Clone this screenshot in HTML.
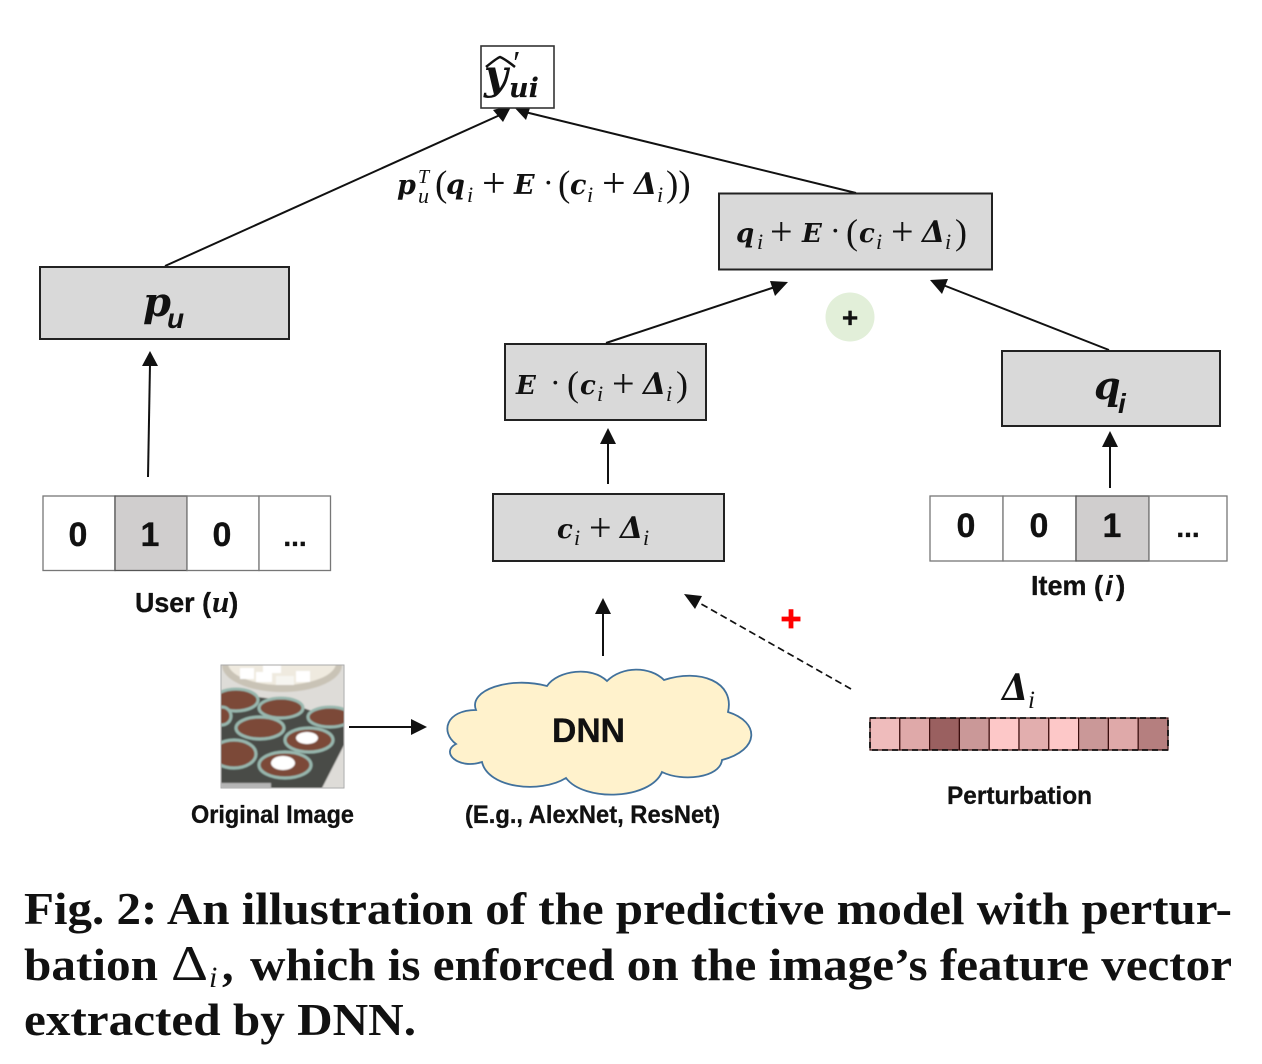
<!DOCTYPE html>
<html><head><meta charset="utf-8">
<style>
html,body{margin:0;padding:0;background:#fff;width:1262px;height:1064px;overflow:hidden}
svg{display:block}
.m{font-family:"DejaVu Serif",serif;font-weight:bold;font-style:italic;fill:#111}
.r{font-family:"Liberation Serif",serif;fill:#111}
.ri{font-family:"Liberation Serif",serif;font-style:italic;fill:#111}
.s{font-family:"Liberation Sans",sans-serif;font-weight:bold;fill:#111;stroke:#111;stroke-width:.3}
.si{font-family:"Liberation Sans",sans-serif;font-weight:bold;font-style:italic;fill:#111}
.c{font-family:"Liberation Serif",serif;font-weight:bold;font-size:46px;fill:#111}
.box{fill:#d9d9d9;stroke:#222;stroke-width:2}
.cell{fill:#fff;stroke:#777;stroke-width:1.3}
.on{fill:#d0cece;stroke:#555;stroke-width:1.3}
.ln{stroke:#111;stroke-width:2;fill:none}
</style></head><body>
<svg width="1262" height="1064" viewBox="0 0 1262 1064" xmlns="http://www.w3.org/2000/svg">
<defs>
<clipPath id="ph"><rect x="221" y="665" width="123" height="123"/></clipPath>
<filter id="bl" x="-5%" y="-5%" width="110%" height="110%"><feGaussianBlur stdDeviation="0.7"/></filter>
</defs>
<rect width="1262" height="1064" fill="#fff"/>

<!-- main connectors -->
<line x1="165" y1="266" x2="500" y2="115" class="ln"/>
<polygon points="512,105 493,110 503,122" fill="#111"/>
<line x1="856" y1="193" x2="525" y2="112" class="ln"/>
<polygon points="513,106 531,105 526,120" fill="#111"/>

<!-- top output -->
<rect x="481" y="46" width="73" height="62" fill="#fff" stroke="#333" stroke-width="1.6"/>
<text x="484" y="89" class="m" font-size="41">y</text>
<path d="M486 67 Q497 58 500 57 Q505 59 515 67" fill="none" stroke="#111" stroke-width="2.5"/>
<text x="511" y="74" class="r" font-size="34" font-style="italic">′</text>
<text x="509" y="97" class="m" font-size="27">ui</text>

<!-- formula top -->
<text x="397" y="194" class="m" font-size="27">p</text>
<text x="418" y="183" class="ri" font-size="20">T</text>
<text x="418" y="203" class="ri" font-size="22">u</text>
<text x="435" y="196" class="r" font-size="37">(</text>
<text x="446" y="194" class="m" font-size="27">q</text>
<text x="467" y="202" class="ri" font-size="22">i</text>
<text x="482" y="197" class="r" font-size="42">+</text>
<text x="514" y="194" class="m" font-size="27">E</text>
<text x="543" y="193" class="r" font-size="32">·</text>
<text x="558" y="196" class="r" font-size="37">(</text>
<text x="570" y="194" class="m" font-size="27">c</text>
<text x="587" y="202" class="ri" font-size="22">i</text>
<text x="602" y="197" class="r" font-size="42">+</text>
<text x="634" y="194" class="m" font-size="30" textLength="23" lengthAdjust="spacingAndGlyphs">Δ</text>
<text x="657" y="202" class="ri" font-size="22">i</text>
<text x="666" y="196" class="r" font-size="37">))</text>

<!-- p_u -->
<rect x="40" y="267" width="249" height="72" class="box"/>
<text x="143" y="316" class="m" font-size="40">p</text>
<text x="167" y="328" class="si" font-size="28">u</text>

<line x1="148" y1="477" x2="150" y2="364" class="ln"/>
<polygon points="150,351 142,366 158,366" fill="#111"/>

<!-- user vector -->
<rect x="43" y="496" width="72" height="74.5" class="cell"/>
<rect x="115" y="496" width="72" height="74.5" class="on"/>
<rect x="187" y="496" width="72" height="74.5" class="cell"/>
<rect x="259" y="496" width="71.5" height="74.5" class="cell"/>
<text x="78" y="546" class="s" font-size="34" text-anchor="middle">0</text>
<text x="150" y="546" class="s" font-size="34" text-anchor="middle">1</text>
<text x="222" y="546" class="s" font-size="34" text-anchor="middle">0</text>
<text x="295" y="546" class="s" font-size="28" text-anchor="middle">...</text>
<text x="135" y="612" class="s" font-size="28" textLength="76" lengthAdjust="spacingAndGlyphs">User (</text>
<text x="212" y="612" class="ri" font-size="31" font-weight="bold">u</text>
<text x="229" y="612" class="s" font-size="28">)</text>

<!-- q+E box -->
<rect x="719" y="193.500" width="273" height="76" class="box"/>
<text x="736" y="242" class="m" font-size="26">q</text>
<text x="757" y="249" class="ri" font-size="22">i</text>
<text x="770" y="245" class="r" font-size="40">+</text>
<text x="802" y="242" class="m" font-size="26">E</text>
<text x="830" y="241" class="r" font-size="32">·</text>
<text x="846" y="244" class="r" font-size="36">(</text>
<text x="859" y="242" class="m" font-size="26">c</text>
<text x="876" y="249" class="ri" font-size="22">i</text>
<text x="891" y="245" class="r" font-size="40">+</text>
<text x="922" y="242" class="m" font-size="30" textLength="23" lengthAdjust="spacingAndGlyphs">Δ</text>
<text x="945" y="249" class="ri" font-size="22">i</text>
<text x="955" y="244" class="r" font-size="36">)</text>

<!-- E box -->
<rect x="505" y="344" width="201" height="76" class="box"/>
<text x="516" y="394" class="m" font-size="26">E</text>
<text x="550" y="393" class="r" font-size="32">·</text>
<text x="567" y="396" class="r" font-size="36">(</text>
<text x="580" y="394" class="m" font-size="26">c</text>
<text x="597" y="401" class="ri" font-size="22">i</text>
<text x="612" y="397" class="r" font-size="40">+</text>
<text x="643" y="394" class="m" font-size="30" textLength="23" lengthAdjust="spacingAndGlyphs">Δ</text>
<text x="666" y="401" class="ri" font-size="22">i</text>
<text x="676" y="396" class="r" font-size="36">)</text>

<line x1="606" y1="343" x2="775" y2="287" class="ln"/>
<polygon points="788,282 770,281 775,296" fill="#111"/>
<line x1="1109" y1="350" x2="943" y2="285" class="ln"/>
<polygon points="930,280 948,279 942,294" fill="#111"/>

<circle cx="850" cy="317" r="24.500" fill="#e2efd9"/>
<text x="850" y="327" class="s" font-size="28" text-anchor="middle">+</text>

<!-- q_i box -->
<rect x="1002" y="351" width="218" height="75" class="box"/>
<text x="1094" y="399" class="m" font-size="38">q</text>
<text x="1118" y="413" class="si" font-size="28">i</text>

<line x1="1110" y1="488" x2="1110" y2="445" class="ln"/>
<polygon points="1110,431 1102,447 1118,447" fill="#111"/>

<!-- item vector -->
<rect x="930" y="496" width="73" height="65" class="cell"/>
<rect x="1003" y="496" width="73" height="65" class="cell"/>
<rect x="1076" y="496" width="73" height="65" class="on"/>
<rect x="1149" y="496" width="78" height="65" class="cell"/>
<text x="966" y="537" class="s" font-size="34" text-anchor="middle">0</text>
<text x="1039" y="537" class="s" font-size="34" text-anchor="middle">0</text>
<text x="1112" y="537" class="s" font-size="34" text-anchor="middle">1</text>
<text x="1188" y="537" class="s" font-size="28" text-anchor="middle">...</text>
<text x="1031" y="595" class="s" font-size="28" textLength="72" lengthAdjust="spacingAndGlyphs">Item (</text>
<text x="1105" y="595" class="si" font-size="28">i</text>
<text x="1116" y="595" class="s" font-size="28">)</text>

<!-- c+delta box -->
<rect x="493" y="494" width="231" height="67" class="box"/>
<text x="557" y="538" class="m" font-size="26">c</text>
<text x="574" y="545" class="ri" font-size="22">i</text>
<text x="589" y="541" class="r" font-size="40">+</text>
<text x="620" y="538" class="m" font-size="30" textLength="23" lengthAdjust="spacingAndGlyphs">Δ</text>
<text x="643" y="545" class="ri" font-size="22">i</text>

<line x1="608" y1="484" x2="608" y2="442" class="ln"/>
<polygon points="608,428 600,444 616,444" fill="#111"/>
<line x1="603" y1="656" x2="603" y2="612" class="ln"/>
<polygon points="603,598 595,614 611,614" fill="#111"/>

<!-- dashed -->
<line x1="851" y1="689" x2="696" y2="601" stroke="#111" stroke-width="1.700" stroke-dasharray="7 4"/>
<polygon points="684,594 702,596 695,609" fill="#111"/>
<text x="791" y="631" class="s" font-size="36" style="fill:#f00;stroke:#f00;stroke-width:.8" text-anchor="middle">+</text>

<!-- image -->
<g clip-path="url(#ph)">
<g filter="url(#bl)">
<rect x="221" y="665" width="123" height="123" fill="#dedcd8"/>
<ellipse cx="282" cy="665" rx="60" ry="27" fill="#c9c3b6"/>
<ellipse cx="282" cy="663" rx="54" ry="22" fill="#efeadf"/>
<rect x="240" y="668" width="14" height="11" fill="#fff"/>
<rect x="256" y="672" width="16" height="10" fill="#fff"/>
<rect x="276" y="676" width="18" height="9" fill="#f6f5f0"/>
<rect x="296" y="671" width="14" height="11" fill="#fff"/>
<rect x="263" y="665" width="18" height="8" fill="#fff"/>
<polygon points="221,692 280,700 344,722 344,745 322,788 221,788" fill="#4a4c47"/>
<g stroke="#98b7ae" stroke-width="3" fill="#7c4a38">
<ellipse cx="236" cy="700" rx="22" ry="11"/>
<ellipse cx="281" cy="708" rx="22" ry="10"/>
<ellipse cx="330" cy="717" rx="22" ry="10"/>
<ellipse cx="222" cy="716" rx="9" ry="9"/>
<ellipse cx="260" cy="728" rx="24" ry="11"/>
<ellipse cx="309" cy="740" rx="24" ry="12"/>
<ellipse cx="234" cy="754" rx="22" ry="14"/>
<ellipse cx="285" cy="765" rx="26" ry="13"/>
</g>
<ellipse cx="307" cy="738" rx="11" ry="6" fill="#fff"/>
<ellipse cx="283" cy="763" rx="12" ry="7" fill="#fff"/>
<rect x="221" y="783" width="50" height="5" fill="#b5b5b5"/>
</g>
</g>
<rect x="221" y="665" width="123" height="123" fill="none" stroke="#aaa" stroke-width="1"/>

<line x1="349" y1="727" x2="413" y2="727" class="ln"/>
<polygon points="427,727 411,719 411,735" fill="#111"/>

<text x="191" y="823" class="s" font-size="25" textLength="163" lengthAdjust="spacingAndGlyphs">Original Image</text>

<!-- cloud -->
<path d="M476 710 C468 690 510 676 547 686 C558 670 592 666 607 681 C622 666 650 666 664 680 C700 668 735 682 728 712 C760 722 760 750 722 760 C720 778 682 782 662 772 C650 800 584 802 566 778 C540 794 488 788 482 762 C458 770 440 752 456 744 C440 732 446 710 476 710 Z" fill="#fff2cc" stroke="#41719c" stroke-width="1.800"/>
<text x="552" y="742" class="s" font-size="34" textLength="73" lengthAdjust="spacingAndGlyphs">DNN</text>
<text x="465" y="823" class="s" font-size="25" textLength="255" lengthAdjust="spacingAndGlyphs">(E.g., AlexNet, ResNet)</text>

<!-- perturbation -->
<text x="1002" y="700" class="m" font-size="36" textLength="26" lengthAdjust="spacingAndGlyphs">Δ</text>
<text x="1028" y="708" class="ri" font-size="25">i</text>
<g stroke="#3a0d0d" stroke-width="1.200">
<rect x="870" y="718" width="29.800" height="32" fill="#efbcbc"/>
<rect x="899.800" y="718" width="29.800" height="32" fill="#dfa9a9"/>
<rect x="929.600" y="718" width="29.800" height="32" fill="#9a6060"/>
<rect x="959.400" y="718" width="29.800" height="32" fill="#ca9898"/>
<rect x="989.200" y="718" width="29.800" height="32" fill="#fdc8c8"/>
<rect x="1019" y="718" width="29.800" height="32" fill="#e2aeae"/>
<rect x="1048.800" y="718" width="29.800" height="32" fill="#fdc8c8"/>
<rect x="1078.600" y="718" width="29.800" height="32" fill="#ca9898"/>
<rect x="1108.400" y="718" width="29.800" height="32" fill="#dfa9a9"/>
<rect x="1138.200" y="718" width="29.800" height="32" fill="#b57f7f"/>
</g>
<rect x="870" y="718" width="298" height="32" fill="none" stroke="#111" stroke-width="1.800" stroke-dasharray="6 4"/>
<text x="947" y="804" class="s" font-size="25" textLength="145" lengthAdjust="spacingAndGlyphs">Perturbation</text>

<!-- caption -->
<text x="24" y="924" class="c" textLength="1208" lengthAdjust="spacingAndGlyphs">Fig. 2: An illustration of the predictive model with pertur-</text>
<text x="24" y="980" class="c" textLength="134" lengthAdjust="spacingAndGlyphs">bation</text>
<text x="171" y="980" class="r" font-size="50" textLength="37" lengthAdjust="spacingAndGlyphs">Δ</text>
<text x="209" y="987" class="ri" font-size="30">i</text>
<text x="222" y="980" class="c">,</text>
<text x="250" y="980" class="c" textLength="982" lengthAdjust="spacingAndGlyphs">which is enforced on the image’s feature vector</text>
<text x="24" y="1035" class="c" textLength="392" lengthAdjust="spacingAndGlyphs">extracted by DNN.</text>
</svg>
</body></html>
